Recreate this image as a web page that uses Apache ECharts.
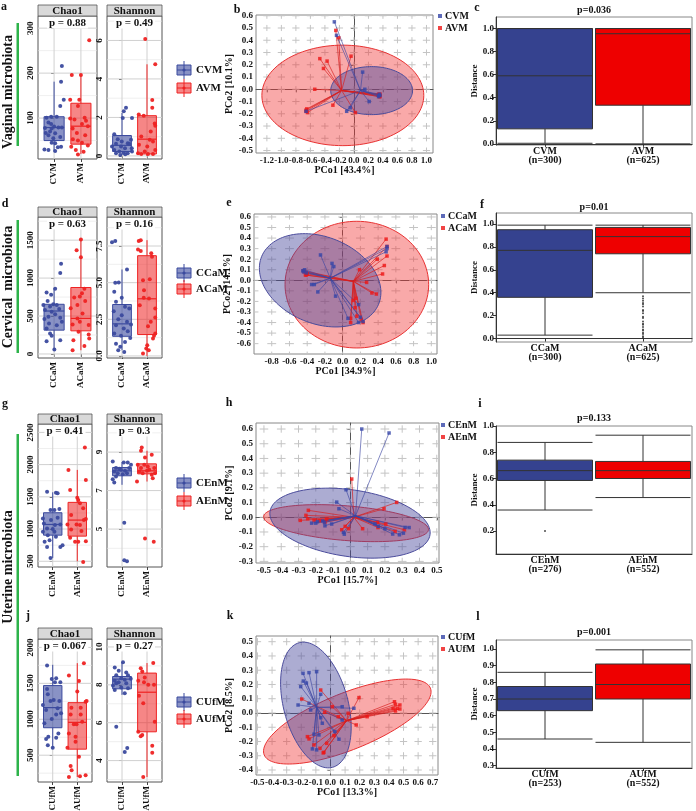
<!DOCTYPE html>
<html><head><meta charset="utf-8">
<script src="https://cdn.jsdelivr.net/npm/echarts@6/dist/echarts.min.js"></script>
<style>html,body{margin:0;padding:0;background:#fff}#c{width:696px;height:811px}</style>
</head><body><div id="c"></div>
<script>
// ================= DATA =================
const rowTitles = ['Vaginal microbiota', 'Cervical  microbiota', 'Uterine microbiota'];
const panelLetters = ['a','b','c','d','e','f','g','h','i','j','k','l'];
const groupsV = ['CVM','AVM'], groupsCa = ['CCaM','ACaM'], groupsEn = ['CEnM','AEnM'], groupsUf = ['CUfM','AUfM'];
const countsV = ['n=300','n=625'], countsCa = ['n=300','n=625'], countsEn = ['n=276','n=552'], countsUf = ['n=253','n=552'];
const pChao = ['p = 0.88','p = 0.63','p = 0.41','p = 0.067'];
const pShan = ['p = 0.49','p = 0.16','p = 0.3','p = 0.27'];
const pDist = ['p=0.036','p=0.01','p=0.133','p=0.001'];
const pcoXNames = ['PCo1 [43.4%]','PCo1 [34.9%]','PCo1 [15.7%]','PCo1 [13.3%]'];
const pcoYNames = ['PCo2 [10.1%]','PCo2 [14.1%]','PCo2 [9.1%]','PCo2 [8.5%]'];

// alpha diversity axes
const chaoTicks = [[100,200,300],[0,500,1000,1500],[500,1000,1500,2000,2500],[500,1000,1500,2000]];
const chaoMinor = [[50,150,250],[250,750,1250,1750],[750,1250,1750,2250],[250,750,1250,1750]];
const chaoRange = [[9,327],[-53,1805],[411,2630],[127,2117]];
const shanTicks = [[0,2,4,6],[0,2.5,5,7.5],[5,7,9],[4,6,8,10]];
const shanMinor = [[1,3,5,7],[1.25,3.75,6.25,8.75],[4,6,8,10],[3,5,7,9]];
const shanRange = [[-0.16,7.27],[-0.14,9.48],[3.03,10.46],[2.87,10.42]];
const shanDecimals = [0,1,0,0];

// box stats [min, q1, median, q3, max]
const chaoStatsV = [[25,50,79,103,181],[20,42,82,133,196]];
const shanStatsV = [[0.05,0.23,0.55,1.06,2.23],[0,0.1,0.87,2.09,4.76]];
const chaoStatsCa = [[49,314,566,655,867],[49,305,469,876,1509]];
const shanStatsCa = [[0.39,1.34,2.19,3.51,5.9],[0,1.46,3.9,6.84,7.9]];
const chaoStatsEn = [[552,905,1071,1253,1570],[500,890,1139,1414,1918]];
const shanStatsEn = [[7.3,7.77,8.03,8.2,8.48],[7.47,7.87,8.03,8.39,9.07]];
const chaoStatsUf = [[593,882,1162,1469,1758],[197,584,957,1231,1781]];
const shanStatsUf = [[7.47,7.79,8.3,8.44,9.19],[3.13,5.52,7.61,8.62,9.15]];

// jittered samples [jitter offset, value]
const chaoPtsCVM = [[.29,216],[.26,181],[.36,141],[.23,127],[-.11,103],[-.28,101],[.1,103],[-.21,90],[-.11,87],[0,81],[.16,79],[.29,79],[-.34,78],[-.09,77],[-.31,67],[-.15,70],[.04,66],[-.21,62],[.23,58],[-.03,55],[-.09,45],[.04,44],[.26,36],[.14,35],[-.21,29],[-.36,30],[.04,27]];
const chaoPtsAVM = [[.31,273],[-.34,196],[0,196],[-.4,141],[-.06,141],[-.11,127],[-.4,99],[-.24,97],[.14,101],[.19,94],[.04,87],[.26,82],[-.31,77],[-.15,67],[.16,62],[-.3,53],[-.11,50],[.04,45],[.26,39],[-.36,36],[.1,25],[-.11,19],[-.19,29]];
const shanPtsCVM = [[.16,2.5],[.07,2.32],[.4,1.97],[.03,1.97],[-.31,1.13],[-.17,.87],[-.01,.75],[.23,.66],[.29,.63],[-.24,.63],[-.04,.49],[.12,.4],[.39,.4],[-.31,.31],[-.11,.23],[.07,.17],[.23,.14],[-.24,.14],[.4,.23],[-.07,.05],[.13,.09],[-.4,.49],[.36,.84]];
const shanPtsAVM = [[-.07,6.07],[.33,4.76],[.21,2.9],[.21,2.5],[-.33,2.15],[-.13,2.09],[.31,1.68],[.33,1.57],[.15,1.27],[-.23,1.01],[.11,.84],[.24,.75],[-.36,.14],[-.23,.1],[.04,.1],[.24,.1],[-.09,.23],[.33,.31],[-.32,.58],[.01,.49]];
const chaoPtsCCaM = [[.26,1190],[.23,1066],[-.28,810],[.04,858],[-.11,779],[-.24,699],[-.03,655],[-.4,646],[-.15,624],[.1,646],[-.34,580],[.19,593],[-.09,558],[.04,522],[-.21,491],[-.36,460],[.23,478],[.29,425],[-.19,403],[.1,380],[-.28,336],[-.15,270],[-.09,239],[-.28,168],[.23,181],[.01,58]];
const chaoPtsACaM = [[0,1509],[-.16,1367],[0,1274],[.13,858],[.04,801],[-.04,757],[-.25,743],[.16,699],[-.13,646],[-.38,602],[.06,535],[-.13,469],[-.04,425],[.29,381],[-.31,389],[-.09,292],[.29,257],[.31,204],[-.28,181],[.13,106],[-.31,49]];
const shanPtsCCaM = [[-.4,7.75],[-.27,7.84],[.2,5.9],[-.27,4.99],[-.13,5.01],[-.31,4.38],[-.01,3.97],[-.24,3.69],[.12,3.35],[.29,3.24],[-.33,3.05],[-.01,2.78],[-.15,2.51],[.2,2.33],[.36,2.14],[-.24,2.1],[.07,1.87],[.23,1.69],[-.31,1.53],[-.04,1.37],[.33,1.23],[.12,.96],[-.24,.84],[-.07,.62],[-.15,.39],[.09,.27]];
const shanPtsACaM = [[-.33,7.84],[-.25,7.9],[-.36,7.27],[-.25,7.16],[.17,7.0],[.2,6.77],[-.16,5.17],[.11,5.24],[-.12,4.49],[-.13,3.97],[.08,3.92],[-.29,3.46],[.33,3.24],[.33,2.62],[.15,2.33],[.04,2.03],[.33,1.53],[.28,1.37],[.24,1.19],[.01,.73],[-.03,.5],[.07,.39],[-.16,.16]];
const chaoPtsCEnM = [[-.23,1580],[.13,1565],[.2,1555],[-.09,1295],[.27,1310],[.07,1295],[-.36,1087],[-.07,1139],[.09,1061],[.31,1071],[-.23,1009],[0,999],[.2,1175],[-.4,957],[-.2,905],[.07,957],[-.13,827],[-.33,801],[-.23,723],[.31,723],[.4,750],[-.09,552],[.13,879],[-.4,1165]];
const chaoPtsAEnM = [[.31,2266],[.35,1762],[-.36,1918],[-.29,1606],[0,1487],[.04,1450],[-.25,1217],[.11,1399],[.24,1321],[.27,1139],[-.03,1071],[.11,1061],[.35,1155],[-.4,1071],[-.25,993],[.17,968],[-.29,864],[-.09,801],[.04,801],[.35,812],[.24,490]];
const shanPtsCEnM = [[-.37,8.51],[.07,8.46],[.23,8.46],[-.24,8.17],[-.11,8.13],[-.04,8.08],[.12,8.03],[.29,8.17],[-.31,7.99],[-.17,7.9],[.03,7.85],[.2,7.9],[.36,8.34],[-.24,7.73],[-.37,7.59],[-.31,7.42],[.09,5.33],[.09,3.38],[.2,3.33]];
const shanPtsAEnM = [[-.21,9.24],[-.24,9.07],[-.08,8.72],[.19,8.86],[-.37,8.34],[-.24,8.17],[-.11,8.34],[.03,8.25],[.09,8.08],[.29,8.17],[-.31,7.99],[-.17,7.9],[0,8.03],[.19,7.82],[.32,7.9],[-.4,7.47],[.23,7.64],[-.08,4.51],[.27,4.34]];
const chaoPtsCUfM = [[-.23,1748],[-.04,1562],[.14,1572],[.09,1516],[.31,1516],[-.23,1422],[-.2,1348],[-.09,1255],[.27,1255],[.04,1269],[-.4,1199],[.34,1082],[-.04,1003],[.14,1068],[.2,1152],[-.27,1129],[.23,803],[-.18,757],[-.27,724],[.14,742],[-.2,640],[0,603],[-.34,943]];
const chaoPtsAUfM = [[.27,1781],[-.34,1609],[.07,1534],[0,1385],[.38,1255],[.34,1245],[.14,1162],[-.24,1162],[.14,1068],[-.27,1068],[.2,966],[-.14,929],[-.03,929],[-.34,803],[-.07,756],[-.07,687],[-.4,603],[.07,477],[-.23,291],[-.27,351],[-.34,197],[.11,207],[.34,221]];
const shanPtsCUfM = [[.04,9.19],[-.29,8.92],[-.13,8.74],[.17,8.65],[-.23,8.5],[.24,8.5],[-.03,8.35],[.11,8.27],[.35,8.32],[-.29,8.21],[-.13,8.14],[.17,8.09],[-.23,8.09],[-.36,7.96],[-.03,7.86],[.24,7.82],[-.29,7.73],[.11,7.56],[-.23,5.79],[.21,4.67],[.11,4.46]];
const shanPtsAUfM = [[.25,9.15],[-.25,8.88],[-.19,8.71],[-.09,8.39],[-.35,8.21],[-.12,8.14],[.05,8.0],[.28,8.0],[-.32,7.42],[-.15,7.03],[.31,6.05],[-.35,5.52],[-.25,5.29],[-.19,5.35],[.21,4.78],[.21,4.42],[-.15,3.13]];

// PCoA axes
const pcoXTicks = [[-1.2,-1.0,-0.8,-0.6,-0.4,-0.2,0,0.2,0.4,0.6,0.8,1.0],[-0.8,-0.6,-0.4,-0.2,0,0.2,0.4,0.6,0.8,1.0],[-0.5,-0.4,-0.3,-0.2,-0.1,0,0.1,0.2,0.3,0.4,0.5],[-0.5,-0.4,-0.3,-0.2,-0.1,0,0.1,0.2,0.3,0.4,0.5,0.6,0.7]];
const pcoYTicks = [[-0.5,-0.4,-0.3,-0.2,-0.1,0,0.1,0.2,0.3,0.4,0.5,0.6],[-0.6,-0.5,-0.4,-0.3,-0.2,-0.1,0,0.1,0.2,0.3,0.4,0.5,0.6],[-0.3,-0.2,-0.1,0,0.1,0.2,0.3,0.4,0.5,0.6],[-0.4,-0.3,-0.2,-0.1,0,0.1,0.2,0.3,0.4,0.5]];
const pcoXRange = [[-1.35,1.09],[-1.0,1.064],[-0.546,0.513],[-0.51,0.736]];
const pcoYRange = [[-0.52,0.606],[-0.698,0.628],[-0.311,0.641],[-0.435,0.54]];

// PCoA centroids, samples and ellipses [cx, cy, ux, uy, vx, vy]
const centCVM = [0.09,-0.01], centAVM = [-0.17,-0.01];
const pcoCVM = [[-0.27,0.55],[-0.24,0.44],[0.12,0.14],[0.15,0.0],[0.21,-0.1],[-0.1,-0.18],[-0.05,-0.15],[0.34,-0.05],[0.35,-0.04],[0.34,-0.06],[-0.66,-0.18],[0.36,-0.05]];
const pcoAVM = [[-0.25,0.48],[-0.21,0.42],[-0.47,0.25],[-0.37,0.23],[-0.42,0.17],[-0.04,0.27],[-0.54,0.0],[-0.29,-0.13],[0.02,-0.19],[-0.66,-0.18],[-0.65,-0.16],[-0.66,-0.17],[-0.64,-0.19],[0.34,-0.04],[0.35,-0.05],[0.36,-0.06],[0.34,-0.05],[0.35,-0.06],[0.36,-0.04]];
const ellCVM = [0.244,-0.011,0.564,0,0,0.196], ellAVM = [-0.153,-0.05,1.116,0,0,0.41];
const centCCaM = [-0.14,0.02], centACaM = [0.12,-0.01];
const pcoCCaM = [[-0.25,0.24],[-0.12,0.16],[-0.1,0.13],[-0.35,-0.04],[-0.32,-0.04],[-0.28,-0.11],[-0.08,-0.15],[-0.45,0.09],[-0.44,0.08],[-0.43,0.1],[-0.41,0.07],[0.06,-0.36],[0.18,-0.23],[0.2,-0.35],[0.18,-0.4],[0.23,-0.39],[0.5,0.32],[0.49,0.27],[0.5,0.3]];
const pcoACaM = [[0.49,0.39],[0.5,0.32],[0.5,0.23],[0.39,0.2],[0.47,0.14],[0.45,0.06],[0.19,0.1],[0.27,-0.02],[0.33,-0.12],[0.38,-0.13],[0.12,-0.19],[0.15,-0.17],[0.14,-0.26],[0.16,-0.34],[0.21,-0.37],[0.09,-0.36],[0.09,-0.4],[0.23,-0.4],[-0.44,0.09],[-0.42,0.05],[-0.4,0.06],[-0.43,0.08],[-0.41,0.05]];
const ellCCaM = [-0.254,0.0,0.659,-0.227,0.188,0.379], ellACaM = [0.16,-0.041,0.81,0,0,0.6];
const centCEnM = [0.03,0.01], centAEnM = [0.02,0.0];
const pcoCEnM = [[0.066,0.6],[0.224,0.573],[-0.025,0.187],[-0.079,0.103],[-0.066,0.058],[-0.224,-0.04],[-0.19,-0.03],[-0.16,-0.025],[-0.15,-0.035],[-0.108,-0.046],[-0.147,-0.058],[-0.04,-0.103],[-0.035,-0.115],[0.143,-0.046],[0.162,-0.062],[0.2,-0.078],[0.245,-0.114],[0.284,-0.119],[0.317,-0.069],[0.34,-0.07],[0.307,-0.108],[-0.2,-0.04]];
const pcoAEnM = [[0.008,0.26],[0.268,0.101],[0.195,0.058],[0.205,-0.046],[0.157,-0.035],[0.313,-0.085],[0.259,-0.096],[0.071,-0.078],[-0.011,-0.078],[-0.03,-0.062],[-0.05,-0.085],[-0.29,-0.021],[-0.257,0.013],[-0.243,0.047],[-0.247,-0.01],[-0.21,-0.021],[-0.176,-0.024],[-0.147,-0.033],[-0.137,-0.012],[0.16,-0.07]];
const ellCEnM = [-0.002,-0.04,0.463,-0.079,0.028,0.2245], ellAEnM = [-0.025,-0.04,0.477,-0.045,0.008,0.1175];
const centCUfM = [-0.095,0.04], centAUfM = [0.11,-0.054];
const pcoCUfM = [[-0.188,0.278],[-0.147,0.283],[-0.095,0.29],[-0.186,0.224],[-0.165,0.21],[-0.204,0.185],[-0.067,0.131],[-0.222,0.056],[-0.147,0.068],[-0.136,0.021],[-0.067,-0.033],[-0.056,-0.072],[-0.113,-0.149],[-0.079,-0.154],[-0.124,-0.252],[-0.095,-0.259],[0.08,0.044],[0.08,-0.049],[0.058,-0.184],[0.16,0.033],[0.03,-0.13]];
const pcoAUfM = [[-0.067,0.161],[-0.197,0.098],[0.012,0.044],[0.121,-0.002],[-0.04,0.005],[0.195,0.108],[0.251,-0.026],[0.176,-0.084],[0.053,-0.026],[-0.158,-0.166],[-0.147,-0.182],[-0.113,-0.224],[-0.072,-0.248],[-0.045,-0.276],[-0.026,-0.213],[0.024,-0.159],[0.438,0.079],[0.445,0.061],[0.475,0.056],[0.456,0.033],[0.429,0.033],[0.475,0.028],[0.445,0.014],[-0.05,-0.28]];
const ellCUfM = [-0.10,0.056,0.114,-0.437,0.213,0.0586], ellAUfM = [0.115,-0.06,0.569,0.234,0.072,-0.1845];

// distance box plots [min, q1, median, q3, max]
const distStatsV = [[0.005,0.13,0.59,1.0,1.0],[0.0,0.335,0.955,1.0,1.0]];
const distStatsCa = [[0.03,0.36,0.77,0.95,0.99],[0.40,0.74,0.89,0.97,0.99]];
const distStatsEn = [[0.36,0.585,0.66,0.74,0.875],[0.455,0.60,0.66,0.73,0.93]];
const distStatsUf = [[0.46,0.63,0.70,0.775,0.86],[0.44,0.70,0.787,0.91,0.995]];
const distOutACaM = [0.37,0.35,0.33,0.31,0.3,0.28,0.25,0.24,0.22,0.19,0.18,0.15,0.13,0.12,0.1,0.08,0.07,0.05,0.04,0.02,0.01];
const distOutCEnM = [0.2];
const distTicks = [[0,0.2,0.4,0.6,0.8,1.0],[0,0.2,0.4,0.6,0.8,1.0],[0.2,0.4,0.6,0.8,1.0],[0.3,0.4,0.5,0.6,0.7,0.8,0.9,1.0]];
const distRange = [[-0.01,1.1],[-0.03,1.096],[0.025,1.0],[0.286,1.054]];

// ================= STYLE / LAYOUT =================
const FONT = '"Liberation Serif","Times New Roman",serif';
const C = {
  gBlue:'#3B4A9E', gRed:'#EE2222', gBlueFill:'rgba(59,74,158,0.6)', gRedFill:'rgba(238,34,34,0.55)',
  pBlue:'#3545A8', pRed:'#EE1515', pBlueLine:'rgba(60,70,160,0.8)', pRedLine:'rgba(215,30,30,0.85)',
  eBlueFill:'rgba(70,72,155,0.45)', eRedFill:'rgba(240,50,50,0.42)', eBlue:'#4B4C9C', eRed:'#E83232',
  dBlue:'#35428F', dRed:'#EE0000'
};
const layout = [
  {chao:[38,16,59,143], shan:[107,16,55,143], strip:[5,11], leg:[70,88], pco:[256,15,177,138], pcoGap:[7,21], pcoLeg:[438,11], dist:[496,17,196,128], distP:10,
   letters:[[4,7],[237,10],[477,8]]},
  {chao:[38,217,59,141], shan:[107,217,55,141], strip:[207,10], leg:[273,289], pco:[254,214,183,140], pcoGap:[8,21], pcoLeg:[441,211], dist:[496,213,196,129], distP:207,
   letters:[[5,204],[229,203],[482,205]]},
  {chao:[38,424,54,143], shan:[107,424,55,143], strip:[414,10], leg:[483,501], pco:[256,423,183,140], pcoGap:[7,21], pcoLeg:[441,420], dist:[496,426,196,128], distP:418,
   letters:[[5,404],[229,403],[480,404]]},
  {chao:[38,639,54,143], shan:[107,639,55,143], strip:[628,11], leg:[702,719], pco:[256,636,182,139], pcoGap:[9,21], pcoLeg:[441,632], dist:[496,640,196,128], distP:632,
   letters:[[28,616],[230,616],[478,617]]}
];
const rows = [
  {groups:groupsV, counts:countsV, chaoStats:chaoStatsV, shanStats:shanStatsV, chaoPts:[chaoPtsCVM,chaoPtsAVM], shanPts:[shanPtsCVM,shanPtsAVM],
   cents:[centCVM,centAVM], pco:[pcoCVM,pcoAVM], ells:[ellCVM,ellAVM], dist:distStatsV, out:[[],[]]},
  {groups:groupsCa, counts:countsCa, chaoStats:chaoStatsCa, shanStats:shanStatsCa, chaoPts:[chaoPtsCCaM,chaoPtsACaM], shanPts:[shanPtsCCaM,shanPtsACaM],
   cents:[centCCaM,centACaM], pco:[pcoCCaM,pcoACaM], ells:[ellCCaM,ellACaM], dist:distStatsCa, out:[[],distOutACaM]},
  {groups:groupsEn, counts:countsEn, chaoStats:chaoStatsEn, shanStats:shanStatsEn, chaoPts:[chaoPtsCEnM,chaoPtsAEnM], shanPts:[shanPtsCEnM,shanPtsAEnM],
   cents:[centCEnM,centAEnM], pco:[pcoCEnM,pcoAEnM], ells:[ellCEnM,ellAEnM], dist:distStatsEn, out:[distOutCEnM,[]]},
  {groups:groupsUf, counts:countsUf, chaoStats:chaoStatsUf, shanStats:shanStatsUf, chaoPts:[chaoPtsCUfM,chaoPtsAUfM], shanPts:[shanPtsCUfM,shanPtsAUfM],
   cents:[centCUfM,centAUfM], pco:[pcoCUfM,pcoAUfM], ells:[ellCUfM,ellAUfM], dist:distStatsUf, out:[[],[]]}
];

const option = {animation:false, backgroundColor:'#fff', textStyle:{fontFamily:FONT}, grid:[], xAxis:[], yAxis:[], series:[], graphic:[], legend:[]};
const G = option.graphic;

function addGrid(r, border) {
  option.grid.push({left:r[0], top:r[1], width:r[2], height:r[3], containLabel:false, outerBoundsMode:'none', show:true, borderColor:border, borderWidth:1, backgroundColor:'#fff'});
  return option.grid.length - 1;
}
function text(x, y, str, font, extra, styleExtra) {
  return Object.assign({type:'text', x:x, y:y, z:100, silent:true,
    style:Object.assign({text:str, font:font, fill:'#111', align:'center', verticalAlign:'middle', textAlign:'center', textVerticalAlign:'middle'}, styleExtra || {})}, extra || {});
}
const lblStyle = (size) => ({fontFamily:FONT, fontWeight:'bold', fontSize:size, color:'#111'});
const fmt1 = v => (Math.abs(v) < 1e-9 ? 0 : v).toFixed(1);

function buildAlpha(r, strip, title, pText, groups, stats, ptsList, range, ticks, minor, dec) {
  const gi = addGrid(r, '#555');
  const xi = option.xAxis.length;
  option.xAxis.push({type:'value', gridIndex:gi, min:-0.6, max:1.6, axisLine:{show:false}, splitLine:{show:false},
    axisTick:{show:true, length:3, customValues:[0,1], lineStyle:{color:'#444'}},
    axisLabel:Object.assign({show:true, customValues:[0,1], formatter:v => groups[Math.round(v)], rotate:90, margin:4}, lblStyle(9))});
  const yi = option.yAxis.length;
  option.yAxis.push({type:'value', gridIndex:gi, min:range[0], max:range[1], axisLine:{show:false}, splitLine:{show:false},
    axisTick:{show:true, length:3, customValues:ticks, lineStyle:{color:'#444'}},
    axisLabel:Object.assign({show:true, customValues:ticks, formatter:v => v.toFixed(dec), rotate:90, margin:3}, lblStyle(9))});
  option.series.push({type:'custom', xAxisIndex:xi, yAxisIndex:yi, z:1, silent:true, data:[[0, ticks[0]]],
    renderItem:(params, api) => {
      const cs = params.coordSys, kids = [];
      minor.filter(v => v > range[0] && v < range[1]).forEach(v => { const y = api.coord([0, v])[1];
        kids.push({type:'line', shape:{x1:cs.x, y1:y, x2:cs.x + cs.width, y2:y}, style:{stroke:'#E4E4E4', lineWidth:0.6}}); });
      ticks.forEach(v => { const y = api.coord([0, v])[1];
        kids.push({type:'line', shape:{x1:cs.x, y1:y, x2:cs.x + cs.width, y2:y}, style:{stroke:'#D0D0D0', lineWidth:1}}); });
      [0,1].forEach(i => { const x = api.coord([i, ticks[0]])[0];
        kids.push({type:'line', shape:{x1:x, y1:cs.y, x2:x, y2:cs.y + cs.height}, style:{stroke:'#D0D0D0', lineWidth:1}}); });
      return {type:'group', children:kids};
    }});
  option.series.push({type:'custom', name:groups.join('/') + ' box', xAxisIndex:xi, yAxisIndex:yi, z:2, silent:true,
    dimensions:['g','min','q1','med','q3','max'], encode:{x:0, y:3},
    data:stats.map((s, i) => [i].concat(s)),
    renderItem:(params, api) => {
      const i = api.value(0);
      const col = i ? C.gRed : C.gBlue, fill = i ? C.gRedFill : C.gBlueFill;
      const cx = api.coord([i, api.value(3)])[0];
      const hw = api.size([0.375, 0])[0];
      const y = k => api.coord([i, api.value(k)])[1];
      return {type:'group', children:[
        {type:'line', shape:{x1:cx, y1:y(5), x2:cx, y2:y(4)}, style:{stroke:col, lineWidth:1}},
        {type:'line', shape:{x1:cx, y1:y(2), x2:cx, y2:y(1)}, style:{stroke:col, lineWidth:1}},
        {type:'rect', shape:{x:cx - hw, y:y(4), width:2 * hw, height:y(2) - y(4)}, style:{fill:fill, stroke:col, lineWidth:1}},
        {type:'line', shape:{x1:cx - hw, y1:y(3), x2:cx + hw, y2:y(3)}, style:{stroke:col, lineWidth:1.2}}
      ]};
    }});
  ptsList.forEach((pts, i) => option.series.push({type:'scatter', name:groups[i] + ' samples', xAxisIndex:xi, yAxisIndex:yi, z:3, silent:true,
    symbol:'circle', symbolSize:4, itemStyle:{color:i ? C.gRed : C.gBlue, opacity:0.95}, data:pts.map(p => [i + p[0], p[1]])}));
  G.push({type:'rect', z:50, silent:true, shape:{x:r[0], y:strip[0], width:r[2], height:strip[1]}, style:{fill:'#D9D9D9', stroke:'#555', lineWidth:0.8}});
  G.push(text(r[0] + r[2] / 2, strip[0] + strip[1] / 2 + 0.5, title, 'bold 11px ' + FONT));
  G.push(text(r[0] + r[2] / 2, r[1] + 7, pText, 'bold 11px ' + FONT, null, {backgroundColor:'#fff', padding:[0,2]}));
}

function ellipsePoints(api, e) {
  const pts = [];
  for (let k = 0; k < 120; k++) {
    const t = k / 120 * 2 * Math.PI;
    pts.push(api.coord([e[0] + e[2] * Math.cos(t) + e[4] * Math.sin(t), e[1] + e[3] * Math.cos(t) + e[5] * Math.sin(t)]));
  }
  return pts;
}

function buildPcoa(r, xr, yr, xt, yt, xName, yName, gaps, groups, cents, ptsList, ells, legPos) {
  const gi = addGrid(r, '#888');
  const xi = option.xAxis.length;
  option.xAxis.push({type:'value', gridIndex:gi, min:xr[0], max:xr[1], splitLine:{show:false},
    axisLine:{show:true, lineStyle:{color:'#555'}}, axisTick:{show:true, length:3, customValues:xt, lineStyle:{color:'#555'}},
    axisLabel:Object.assign({show:true, customValues:xt, formatter:fmt1, margin:3}, lblStyle(9)),
    name:xName, nameLocation:'middle', nameGap:gaps[0], nameTextStyle:lblStyle(10)});
  const yi = option.yAxis.length;
  option.yAxis.push({type:'value', gridIndex:gi, min:yr[0], max:yr[1], splitLine:{show:false},
    axisLine:{show:true, lineStyle:{color:'#555'}}, axisTick:{show:true, length:3, customValues:yt, lineStyle:{color:'#555'}},
    axisLabel:Object.assign({show:true, customValues:yt, formatter:fmt1, margin:3}, lblStyle(9)),
    name:yName, nameLocation:'middle', nameGap:gaps[1], nameTextStyle:lblStyle(10)});
  // cross-pattern dashed grid
  option.series.push({type:'custom', xAxisIndex:xi, yAxisIndex:yi, z:1, silent:true, data:[[xt[0], yt[0]]],
    renderItem:(params, api) => {
      const cs = params.coordSys, kids = [];
      const px = xt.map(v => api.coord([v, yt[0]])[0]);
      const py = yt.map(v => api.coord([xt[0], v])[1]);
      const dxp = Math.abs(px[1] - px[0]), dyp = Math.abs(py[1] - py[0]);
      const dh = dxp / 2, dv = dyp / 2;
      const offH = (((cs.x - px[0] + dh / 2) % dxp) + dxp) % dxp;
      const offV = (((cs.y - py[0] + dv / 2) % dyp) + dyp) % dyp;
      py.forEach(y => kids.push({type:'line', shape:{x1:cs.x, y1:y, x2:cs.x + cs.width, y2:y},
        style:{stroke:'#C4C4C4', lineWidth:1, lineDash:[dh, dxp - dh], lineDashOffset:offH}}));
      px.forEach(x => kids.push({type:'line', shape:{x1:x, y1:cs.y, x2:x, y2:cs.y + cs.height},
        style:{stroke:'#C4C4C4', lineWidth:1, lineDash:[dv, dyp - dv], lineDashOffset:offV}}));
      return {type:'group', children:kids};
    }});
  // ellipses: A (red) first, then C (blue)
  option.series.push({type:'custom', name:groups.join('/') + ' ellipses', xAxisIndex:xi, yAxisIndex:yi, z:2, silent:true,
    dimensions:['cx','cy','ux','uy','vx','vy','g'], encode:{x:0, y:1},
    data:[ells[1].concat([1]), ells[0].concat([0])],
    renderItem:(params, api) => {
      const e = [0,1,2,3,4,5].map(k => api.value(k)), g = api.value(6);
      return {type:'polygon', shape:{points:ellipsePoints(api, e)},
        style:{fill:g ? C.eRedFill : C.eBlueFill, stroke:g ? C.eRed : C.eBlue, lineWidth:1}};
    }});
  // spider lines
  [1,0].forEach(i => {
    const c = cents[i];
    option.series.push({type:'custom', name:groups[i] + ' spider', xAxisIndex:xi, yAxisIndex:yi, z:3, silent:true,
      data:ptsList[i],
      renderItem:(params, api) => {
        const a = api.coord(c), b = api.coord([api.value(0), api.value(1)]);
        return {type:'line', shape:{x1:a[0], y1:a[1], x2:b[0], y2:b[1]}, style:{stroke:i ? C.pRedLine : C.pBlueLine, lineWidth:0.8}};
      }});
  });
  [1,0].forEach(i => option.series.push({type:'scatter', name:groups[i], xAxisIndex:xi, yAxisIndex:yi, z:4, silent:true,
    symbol:'rect', symbolSize:3.5, itemStyle:{color:i ? C.pRed : C.pBlue}, data:ptsList[i]}));
  option.legend.push({left:legPos[0], top:legPos[1], orient:'vertical', icon:'rect', itemWidth:4, itemHeight:4, itemGap:2, padding:0,
    selectedMode:false, textStyle:Object.assign({padding:[0,0,0,-2]}, lblStyle(10)), data:groups});
}

function buildDist(r, yr, yt, labels, stats, outs, pText, pY) {
  const gi = addGrid(r, '#888');
  const xi = option.xAxis.length;
  option.xAxis.push({type:'category', gridIndex:gi, data:labels, splitLine:{show:false},
    axisLine:{show:true, lineStyle:{color:'#333'}}, axisTick:{show:true, alignWithLabel:true, length:3, lineStyle:{color:'#333'}},
    axisLabel:Object.assign({margin:2, lineHeight:9}, lblStyle(10))});
  const yi = option.yAxis.length;
  option.yAxis.push({type:'value', gridIndex:gi, min:yr[0], max:yr[1], splitLine:{show:false},
    axisLine:{show:true, lineStyle:{color:'#333'}}, axisTick:{show:true, length:3, customValues:yt, lineStyle:{color:'#333'}},
    axisLabel:Object.assign({show:true, customValues:yt, formatter:fmt1, margin:2}, lblStyle(9)),
    name:'Distance', nameLocation:'middle', nameGap:17, nameTextStyle:lblStyle(9)});
  option.series.push({type:'boxplot', xAxisIndex:xi, yAxisIndex:yi, z:2, silent:true, boxWidth:[95,95],
    data:stats.map((s, i) => ({value:s, itemStyle:{color:i ? C.dRed : C.dBlue, borderColor:'#333', borderWidth:1}}))});
  const od = [];
  outs.forEach((arr, i) => arr.forEach(v => od.push([i, v])));
  option.series.push({type:'scatter', xAxisIndex:xi, yAxisIndex:yi, z:3, silent:true, symbol:'circle', symbolSize:2, itemStyle:{color:'#222'}, data:od});
  G.push(text(r[0] + r[2] / 2, pY, pText, 'bold 10px ' + FONT));
}

function boxLegend(x, yc, col, fill, str) {
  return [
    {type:'line', z:60, silent:true, shape:{x1:x + 7, y1:yc - 9, x2:x + 7, y2:yc + 9}, style:{stroke:col, lineWidth:1}},
    {type:'rect', z:61, silent:true, shape:{x:x, y:yc - 5, width:14, height:10}, style:{fill:fill, stroke:col, lineWidth:1}},
    {type:'line', z:62, silent:true, shape:{x1:x, y1:yc, x2:x + 14, y2:yc}, style:{stroke:col, lineWidth:1}},
    {type:'circle', z:63, silent:true, shape:{cx:x + 7, cy:yc, r:1.6}, style:{fill:col}},
    text(x + 19, yc, str, 'bold 11px ' + FONT, null, {align:'left', textAlign:'left'})
  ];
}

rows.forEach((row, k) => {
  const L = layout[k];
  buildAlpha(L.chao, L.strip, 'Chao1', pChao[k], row.groups, row.chaoStats, row.chaoPts, chaoRange[k], chaoTicks[k], chaoMinor[k], 0);
  buildAlpha(L.shan, L.strip, 'Shannon', pShan[k], row.groups, row.shanStats, row.shanPts, shanRange[k], shanTicks[k], shanMinor[k], shanDecimals[k]);
  G.push(...boxLegend(177, L.leg[0], C.gBlue, C.gBlueFill, row.groups[0]));
  G.push(...boxLegend(177, L.leg[1], C.gRed, C.gRedFill, row.groups[1]));
  buildPcoa(L.pco, pcoXRange[k], pcoYRange[k], pcoXTicks[k], pcoYTicks[k], pcoXNames[k], pcoYNames[k], L.pcoGap, row.groups, row.cents, row.pco, row.ells, L.pcoLeg);
  buildDist(L.dist, distRange[k], distTicks[k], row.groups.map((g, i) => g + '\n(' + row.counts[i] + ')'), row.dist, row.out, pDist[k], L.distP);
  L.letters.forEach((p, j) => G.push(text(p[0], p[1], panelLetters[k * 3 + j], 'bold 12px ' + FONT)));
});

// row titles and green bars
[[8,92],[8,287],[8,567]].forEach((p, i) => G.push(text(p[0], p[1], rowTitles[i], 'bold 14px ' + FONT, {rotation:Math.PI / 2})));
[[23,146],[220,353],[434,776]].forEach(b => G.push({type:'rect', z:50, silent:true, shape:{x:16.5, y:b[0], width:2.5, height:b[1] - b[0]}, style:{fill:'#2DB34A'}}));

const chart = echarts.init(document.getElementById('c'), null, {renderer:'canvas'});
chart.setOption(option);
</script></body></html>
